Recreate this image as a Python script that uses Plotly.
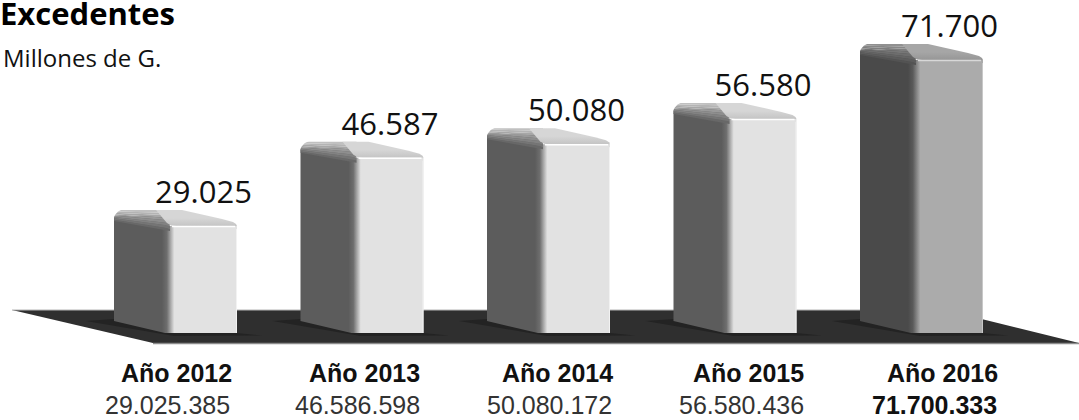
import plotly.graph_objects as go

# datos
years = ["Año 2012", "Año 2013", "Año 2014", "Año 2015", "Año 2016"]
bar_labels = ["29.025", "46.587", "50.080", "56.580", "71.700"]
values = [29.025, 46.587, 50.080, 56.580, 71.700]
full_values = ["29.025.385", "46.586.598", "50.080.172", "56.580.436", "71.700.333"]

# escalas: una categoria = 186.5 px, una unidad de valor = 3.89 px
W, H = 1079, 420
SLOT = 186.5
UNIT = 3.89
x_range = [-175.5 / SLOT, (W - 175.5) / SLOT]
y_range = [(339 - H) / UNIT, 339 / UNIT]
BASE = (339 - 333) / UNIT


def dx(px):
    return px / SLOT


def dy(px):
    return px / UNIT


def floor_x(px):
    return (px - 175.5) / SLOT


def floor_y(px):
    return (339 - px) / UNIT


def poly(xs, ys, color=None, gradient=None):
    trace = dict(x=xs, y=ys, mode="lines", fill="toself", hoverinfo="skip",
                 showlegend=False, line=dict(width=0, color="rgba(0,0,0,0)"))
    if gradient:
        trace["fillgradient"] = gradient
    else:
        trace["fillcolor"] = color
    return go.Scatter(**trace)


def stroke(xs, ys, color, width=1):
    return go.Scatter(x=xs, y=ys, mode="lines", line=dict(color=color, width=width),
                      hoverinfo="skip", showlegend=False)


def blend(a, b, f):
    # a y b son grises 0-255
    g = round(a + (b - a) * f)
    return "rgb(%d,%d,%d)" % (g, g, g)


fig = go.Figure()

# piso
fig.add_trace(poly(
    [floor_x(p) for p in [12, 945, 1079, 153, 12]],
    [floor_y(p) for p in [310, 310, 343, 343, 310]],
    color="#2f2f2f"))
fig.add_trace(stroke([floor_x(12), floor_x(945)], [floor_y(310), floor_y(310)], "#b5b5b5"))
fig.add_trace(stroke([floor_x(153), floor_x(1079)], [floor_y(343.5), floor_y(343.5)], "#8c8c8c", 1.5))

for i, v in enumerate(values):
    last = i == len(values) - 1
    side = "#4a4a4a" if last else "#5c5c5c"
    side_g = 0x4a if last else 0x5c
    top_g = 0x90 if last else 0xc0
    mid = "#5a5a5a" if last else "#6e6e6e"
    front = "#ababab" if last else "#e2e2e2"
    cap = "#a6a6a6" if last else "#d6d6d6"
    edge = "#c8c8c8" if last else "#f2f2f2"
    x0 = i - dx(61.5)

    def X(p):
        return x0 + dx(p)

    yf = v                # arista superior de la cara frontal
    yb = v + dy(16)       # arista trasera

    # sombra sobre el piso
    fig.add_trace(poly(
        [X(-28), X(0), X(123), X(148), X(60), X(-28)],
        [BASE + dy(12), BASE + dy(14), BASE + dy(0), BASE - dy(2.5), BASE - dy(3), BASE + dy(12)],
        color="#232323"))

    # cuerpo: cara lateral + cara frontal
    fig.add_trace(poly(
        [X(0), X(0), X(123), X(123), X(51), X(0)],
        [BASE + dy(12), yb - dy(6), yb - dy(6), BASE, BASE, BASE + dy(12)],
        gradient=dict(type="horizontal", colorscale=[
            [0, side], [0.39, side], [0.43, mid], [0.49, front], [1, front]]),
    ))
    # blanco sobre la parte derecha que no es cuerpo
    fig.add_trace(poly(
        [X(55), X(124), X(124), X(55), X(55)],
        [yf, yf, yb + dy(1), yb + dy(1), yf],
        color="white"))
    # borde derecho
    fig.add_trace(stroke([X(122.5), X(122.5)], [yf - dy(3), BASE], edge))

    # bisel de la cara lateral, en franjas que siguen la pendiente
    steps = 8
    for k in range(steps):
        f = k / steps
        f2 = (k + 1) / steps
        fig.add_trace(poly(
            [X(0), X(56), X(56), X(0), X(0)],
            [yb - dy(11 * (1 - f)), yb - dy(21 * (1 - f)), yb - dy(21 * (1 - f2)),
             yb - dy(11 * (1 - f2)), yb - dy(11 * (1 - f))],
            color=blend(side_g, top_g, f2)))
    # esquina redondeada trasera
    fig.add_trace(poly(
        [X(-1), X(9), X(4), X(1), X(-1), X(-1)],
        [yb + dy(1), yb + dy(1), yb - dy(1.5), yb - dy(5), yb - dy(9), yb + dy(1)],
        color="white"))

    # tapa clara
    fig.add_trace(poly(
        [X(53), X(57), X(62), X(123), X(122), X(119), X(108), X(68), X(42), X(53)],
        [yf + dy(3), yf + dy(0.5), yf, yf, yf + dy(2), yf + dy(4), yf + dy(7), yb, yb, yf + dy(3)],
        gradient=dict(type="vertical", colorscale=[
            [0, "#c4c4c4" if not last else "#969696"], [0.5, cap], [1, cap]]),
    ))
    # brillo
    fig.add_trace(stroke([X(58), X(121)], [yf - dy(0.5), yf - dy(0.5)],
                         "#ffffff" if not last else "#d8d8d8", 1.5))

# etiquetas sobre las barras
fig.add_trace(go.Scatter(
    x=[i + dx(28) for i in range(len(values))],
    y=[v + dy(31) for v in values],
    text=bar_labels, mode="text", textposition="middle center",
    textfont=dict(family="Open Sans", size=31, color="#111111"),
    hoverinfo="skip", showlegend=False))

# textos bajo las barras, alineados a la derecha
year_edges = [58, 60, 66, 70.5, 78]
value_edges = [56, 59.5, 65.5, 71, 77.5]
annotations = []
for i, (year, full) in enumerate(zip(years, full_values)):
    last = i == len(years) - 1
    annotations.append(dict(
        x=i + dx(year_edges[i]), y=floor_y(373), xref="x", yref="y", text="<b>%s</b>" % year,
        xanchor="right", yanchor="middle", showarrow=False,
        font=dict(family="Liberation Sans", size=25, color="#111111")))
    annotations.append(dict(
        x=i + dx(value_edges[i]), y=floor_y(405), xref="x", yref="y",
        text="<b>%s</b>" % full if last else full,
        xanchor="right", yanchor="middle", showarrow=False,
        font=dict(family="Liberation Sans", size=25, color="#111111" if last else "#333333")))

annotations.append(dict(
    x=-2 / W, y=floor_y(13), xref="paper", yref="y", text="<b>Excedentes</b>",
    xanchor="left", yanchor="middle", showarrow=False,
    font=dict(family="Open Sans", size=31, color="#000000")))
annotations.append(dict(
    x=0.001, y=floor_y(57), xref="paper", yref="y", text="Millones de G.",
    xanchor="left", yanchor="middle", showarrow=False,
    font=dict(family="Open Sans", size=24, color="#111111")))

fig.update_layout(
    width=W, height=H, margin=dict(l=0, r=0, t=0, b=0),
    paper_bgcolor="white", plot_bgcolor="white",
    xaxis=dict(range=x_range, visible=False, fixedrange=True),
    yaxis=dict(range=y_range, visible=False, fixedrange=True),
    annotations=annotations,
)
fig.write_html("out.html", config={"displayModeBar": False},
               post_script="document.body.style.margin='0';")
